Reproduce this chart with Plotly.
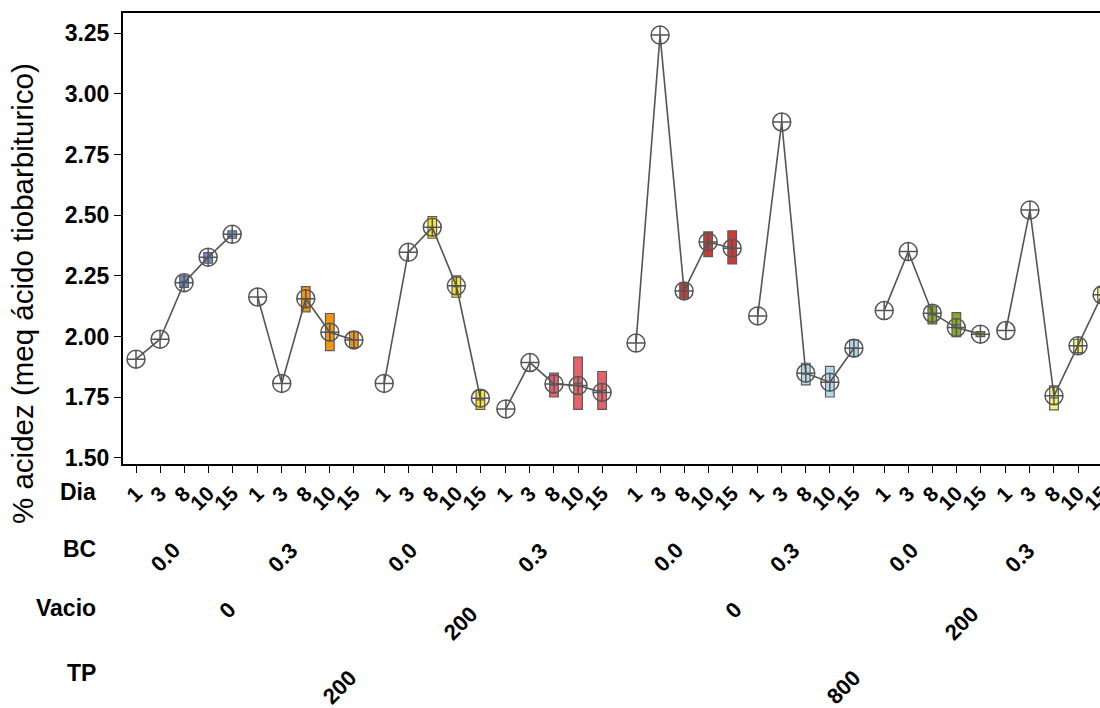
import plotly.graph_objects as go

# ---------------- data ----------------
dia_labels = ["1", "3", "8", "10", "15"]
bc_labels = ["0.0", "0.3", "0.0", "0.3", "0.0", "0.3", "0.0", "0.3"]
vacio_labels = ["0", "200", "0", "200"]
tp_labels = ["200", "800"]

# cell means (one list per TP/Vacio/BC group, Dia = 1,3,8,10,15)
mean_g1 = [1.907, 1.989, 2.222, 2.327, 2.421]
mean_g2 = [2.163, 1.807, 2.156, 2.018, 1.986]
mean_g3 = [1.807, 2.347, 2.450, 2.209, 1.746]
mean_g4 = [1.702, 1.893, 1.805, 1.798, 1.770]
mean_g5 = [1.973, 3.242, 2.188, 2.390, 2.364]
mean_g6 = [2.085, 2.884, 1.849, 1.812, 1.952]
mean_g7 = [2.107, 2.350, 2.096, 2.037, 2.010]
mean_g8 = [2.025, 2.521, 1.756, 1.962, 2.172]

# box ranges (low, high) for Dia 8, 10, 15
box_low_g1 = [2.203, 2.302, 2.405]
box_high_g1 = [2.250, 2.346, 2.436]
box_low_g2 = [2.102, 1.942, 1.955]
box_high_g2 = [2.206, 2.095, 2.020]
box_low_g3 = [2.405, 2.162, 1.700]
box_high_g3 = [2.494, 2.250, 1.778]
box_low_g4 = [1.751, 1.700, 1.700]
box_high_g4 = [1.849, 1.915, 1.856]
box_low_g5 = [2.158, 2.329, 2.299]
box_high_g5 = [2.220, 2.431, 2.436]
box_low_g6 = [1.801, 1.751, 1.918]
box_high_g6 = [1.890, 1.877, 1.986]
box_low_g7 = [2.052, 2.000, 2.000]
box_high_g7 = [2.126, 2.099, 2.020]
box_low_g8 = [1.698, 1.934, 2.140]
box_high_g8 = [1.797, 1.989, 2.203]

y_ticks = [1.50, 1.75, 2.00, 2.25, 2.50, 2.75, 3.00, 3.25]

means = [mean_g1, mean_g2, mean_g3, mean_g4, mean_g5, mean_g6, mean_g7, mean_g8]
box_lows = [box_low_g1, box_low_g2, box_low_g3, box_low_g4,
            box_low_g5, box_low_g6, box_low_g7, box_low_g8]
box_highs = [box_high_g1, box_high_g2, box_high_g3, box_high_g4,
             box_high_g5, box_high_g6, box_high_g7, box_high_g8]
colors = ["#6a8fd4", "#f5950f", "#f8e52a", "#e8626a",
          "#cc3a36", "#b4daea", "#8aa82a", "#f5f27e"]

# ---------------- layout geometry ----------------
# the figure is a bit wider than the 1100 px window: the chart is cut at the right
W, H = 1150, 708
L, R, T, B = 123, 1125, 13, 464
UNIT = 24.05          # px per category step
X0 = -(136 - L) / UNIT
X1 = (R - 136) / UNIT
Y0, Y1 = 1.475, 3.333

gap_bc, gap_vac, gap_tp = 0.06, 0.2, 0.35
positions = []
p = 0.0
for g in range(8):
    if g > 0:
        p += 1.0
        if g == 4:
            p += gap_tp + gap_bc
        elif g % 2 == 0:
            p += gap_vac + gap_bc
        else:
            p += gap_bc
    grp = []
    for d in range(5):
        if d > 0:
            p += 1.0
        grp.append(p)
    positions.append(grp)

# label placement offsets (px left of group centre) and rows (px)
bc_dx = [19, 23, 30, 21, 16, 21, 29, 34]
vac_dx = [18, 33, 12, 32]
vac_y = [610, 623, 610, 623]
tp_dx = [30, 26]
BC_Y, TP_Y = 557, 687

def py2paper(py):
    return (B - py) / (B - T)

def px2paper(px):
    return (px - L) / (R - L)

def px_off(dx):
    return dx / UNIT

FONT_B = "Liberation Sans, Arial"

fig = go.Figure()

for g in range(8):
    xs = positions[g][2:]
    fig.add_trace(go.Box(
        x=xs,
        q1=box_lows[g], q3=box_highs[g],
        median=[(a + b) / 2 for a, b in zip(box_lows[g], box_highs[g])],
        lowerfence=box_lows[g], upperfence=box_highs[g],
        width=0.36, fillcolor=colors[g],
        line=dict(color="#5a5a5a", width=1.2),
        boxpoints=False, showlegend=False, hoverinfo="skip",
    ))

for g in range(8):
    fig.add_trace(go.Scatter(
        x=positions[g], y=means[g], mode="lines+markers",
        line=dict(color="#555555", width=1.6),
        marker=dict(symbol="circle-cross-open", size=18, color="#555555",
                    line=dict(width=1.5, color="#555555")),
        cliponaxis=False, showlegend=False,
    ))

tickvals = [x for grp in positions for x in grp]
ticktext = dia_labels * 8

fig.update_xaxes(
    range=[X0, X1], tickmode="array", tickvals=tickvals, ticktext=ticktext,
    tickangle=-45, ticks="outside", ticklen=7, tickwidth=1.2, tickcolor="black",
    showline=True, linecolor="black", linewidth=2, mirror=True,
    showgrid=False, zeroline=False, ticklabeloverflow="allow",
    tickfont=dict(family=FONT_B, size=21, color="black", weight="bold"),
)
fig.update_yaxes(
    range=[Y0, Y1], tickmode="array", tickvals=y_ticks,
    ticktext=[f"{v:.2f}" for v in y_ticks],
    ticks="outside", ticklen=7, tickwidth=1.2, tickcolor="black",
    showline=True, linecolor="black", linewidth=2,
    showgrid=False, zeroline=False,
    tickfont=dict(family=FONT_B, size=23, color="black", weight="bold"),
)

annotations = []
# row titles
for txt, ypx in [("Dia", 492), ("BC", 549), ("Vacio", 608), ("TP", 673)]:
    annotations.append(dict(
        text=txt, xref="paper", yref="paper", x=px2paper(98), y=py2paper(ypx),
        xanchor="right", yanchor="middle", showarrow=False,
        font=dict(family=FONT_B, size=23, color="black", weight="bold")))

def add_rot(label, xcenter, ypx, dx):
    annotations.append(dict(
        text=label, xref="x", yref="paper", x=xcenter - px_off(dx),
        y=py2paper(ypx), xanchor="center", yanchor="middle",
        textangle=-45, showarrow=False,
        font=dict(family=FONT_B, size=22, color="black", weight="bold")))

for g in range(8):
    c = (positions[g][0] + positions[g][-1]) / 2
    add_rot(bc_labels[g], c, BC_Y, bc_dx[g])
for v in range(4):
    c = (positions[2 * v][0] + positions[2 * v + 1][-1]) / 2
    add_rot(vacio_labels[v], c, vac_y[v], vac_dx[v])
for t in range(2):
    c = (positions[4 * t][0] + positions[4 * t + 3][-1]) / 2
    add_rot(tp_labels[t], c, TP_Y, tp_dx[t])

annotations.append(dict(
    text="% acidez (meq ácido tiobarbiturico)", xref="paper", yref="paper",
    x=px2paper(22), y=py2paper(294), xanchor="center", yanchor="middle",
    textangle=-90, showarrow=False,
    font=dict(family="Liberation Sans, Arial", size=29.5, color="black")))

fig.update_layout(
    width=W, height=H,
    margin=dict(l=L, r=W - R, t=T, b=H - B, pad=0),
    plot_bgcolor="white", paper_bgcolor="white",
    annotations=annotations, showlegend=False,
)

fig.write_html(
    "out.html",
    config={"displayModeBar": False},
    post_script="document.body.style.margin='0px';document.body.style.overflow='hidden';",
)
